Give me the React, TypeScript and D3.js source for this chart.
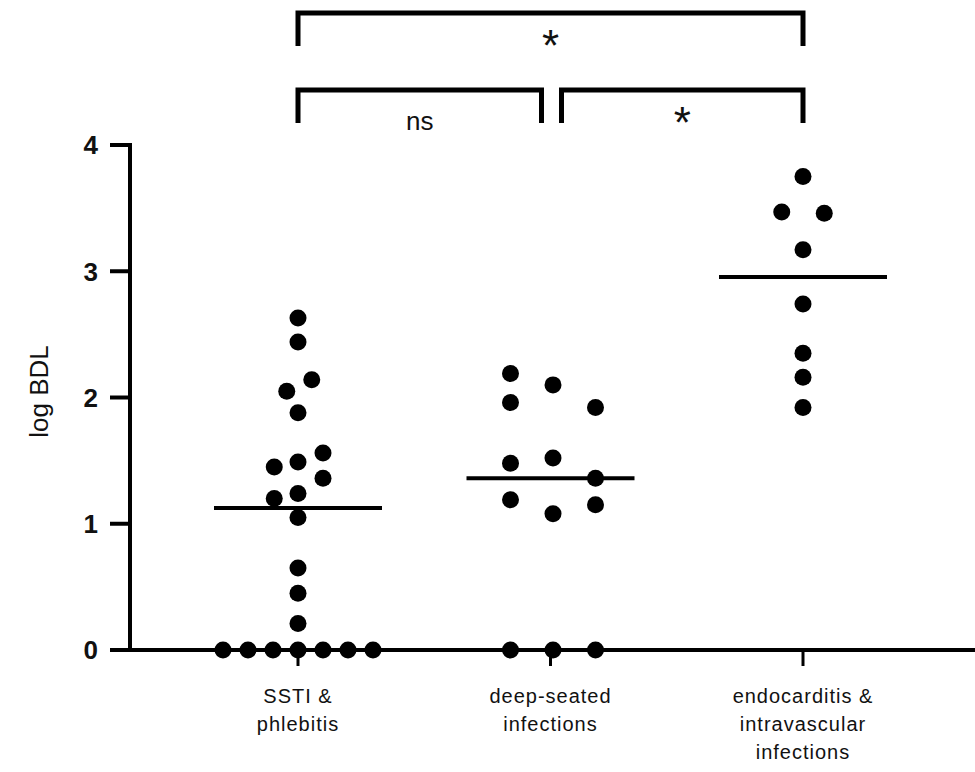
import React, { useEffect, useRef } from 'react';
import * as d3 from 'd3';

// groups on the x axis (label lines)
const categories = ['ssti', 'deep', 'endo'];
const categoryLabels = [
  ['SSTI &', 'phlebitis'],
  ['deep-seated', 'infections'],
  ['endocarditis &', 'intravascular', 'infections'],
];

// log BDL values per group, with the column each dot sits in (scatter offset)
const sstiValues = [2.63, 2.44, 2.14, 2.05, 1.88, 1.56, 1.49, 1.45, 1.36, 1.24, 1.2, 1.05, 0.65, 0.45, 0.21, 0, 0, 0, 0, 0, 0, 0];
const sstiCols = [0, 0, 0.55, -0.45, 0, 1, 0, -0.95, 1, 0, -0.95, 0, 0, 0, 0, -3, -2, -1, 0, 1, 2, 3];
const deepValues = [2.19, 1.96, 2.1, 1.92, 1.52, 1.48, 1.36, 1.19, 1.15, 1.08, 0, 0, 0];
const deepCols = [-1.6, -1.6, 0.1, 1.8, 0.1, -1.6, 1.8, -1.6, 1.8, 0.1, -1.6, 0.1, 1.8];
const endoValues = [3.75, 3.47, 3.46, 3.17, 2.74, 2.35, 2.16, 1.92];
const endoCols = [0, -0.85, 0.85, 0, 0, 0, 0, 0];

const yTicks = [0, 1, 2, 3, 4];

// significance brackets: [from group, to group, label, level]
const brackets: [string, string, string, number][] = [
  ['ssti', 'endo', '*', 1],
  ['ssti', 'deep', 'ns', 0],
  ['deep', 'endo', '*', 0],
];

export default function App() {
  const svgRef = useRef<SVGSVGElement>(null);
  const width = 975;
  const height = 772;

  useEffect(() => {
    const svg = d3.select(svgRef.current);
    svg.selectAll('*').remove();

    const axisX = 130;
    const x = d3.scalePoint<string>().domain(categories).range([298, 803]);
    const y = d3.scaleLinear().domain([0, 4]).range([650, 145]);
    const colW = 25;

    const groups = [
      { key: 'ssti', values: sstiValues, cols: sstiCols },
      { key: 'deep', values: deepValues, cols: deepCols },
      { key: 'endo', values: endoValues, cols: endoCols },
    ];

    // y axis
    svg.append('line')
      .attr('x1', axisX).attr('x2', axisX)
      .attr('y1', y(4) - 2).attr('y2', y(0))
      .attr('stroke', '#000').attr('stroke-width', 4);
    yTicks.forEach(t => {
      svg.append('line')
        .attr('x1', axisX - 20).attr('x2', axisX)
        .attr('y1', y(t)).attr('y2', y(t))
        .attr('stroke', '#000').attr('stroke-width', 4);
      svg.append('text')
        .attr('x', axisX - 32).attr('y', y(t))
        .attr('dy', '0.36em')
        .attr('text-anchor', 'end')
        .attr('font-family', 'Liberation Sans, Arial, sans-serif')
        .attr('font-weight', 'bold')
        .attr('font-size', 26)
        .attr('fill', '#111')
        .text(t);
    });

    svg.append('text')
      .attr('transform', `translate(48,${y(2) - 6}) rotate(-90)`)
      .attr('text-anchor', 'middle')
      .attr('font-family', 'Liberation Sans, Arial, sans-serif')
      .attr('font-size', 26)
      .attr('fill', '#111')
      .text('log BDL');

    // x axis
    svg.append('line')
      .attr('x1', axisX - 2).attr('x2', width)
      .attr('y1', y(0)).attr('y2', y(0))
      .attr('stroke', '#000').attr('stroke-width', 4);
    categories.forEach((c, i) => {
      svg.append('line')
        .attr('x1', x(c)!).attr('x2', x(c)!)
        .attr('y1', y(0)).attr('y2', y(0) + 16)
        .attr('stroke', '#000').attr('stroke-width', 3);
      const t = svg.append('text')
        .attr('text-anchor', 'middle')
        .attr('font-family', 'Liberation Sans, Arial, sans-serif')
        .attr('font-size', 20)
        .attr('letter-spacing', 1)
        .attr('fill', '#111');
      categoryLabels[i].forEach((line, j) => {
        t.append('tspan')
          .attr('x', x(c)!)
          .attr('y', 703 + j * 28)
          .text(line);
      });
    });

    // dots and median lines
    groups.forEach(g => {
      const cx = x(g.key)!;
      svg.append('g')
        .selectAll('circle')
        .data(g.values)
        .join('circle')
        .attr('cx', (d, i) => cx + g.cols[i] * colW)
        .attr('cy', d => y(d))
        .attr('r', 8.5)
        .attr('fill', '#000');
      const med = d3.median(g.values)!;
      svg.append('line')
        .attr('x1', cx - 84).attr('x2', cx + 84)
        .attr('y1', y(med)).attr('y2', y(med))
        .attr('stroke', '#000').attr('stroke-width', 4);
    });

    // significance brackets
    const levelY = [90, 13];
    brackets.forEach(([a, b, label, level]) => {
      let x1 = x(a)!;
      let x2 = x(b)!;
      if (level === 0) {
        if (b === 'deep') x2 -= 9;
        if (a === 'deep') x1 += 11;
      }
      const top = levelY[level];
      svg.append('path')
        .attr('d', `M${x1},${top + 33}V${top}H${x2}V${top + 33}`)
        .attr('fill', 'none')
        .attr('stroke', '#000')
        .attr('stroke-width', 5);
      svg.append('text')
        .attr('x', (x1 + x2) / 2)
        .attr('y', label === '*' ? top + 48 : top + 40)
        .attr('text-anchor', 'middle')
        .attr('font-family', 'Liberation Sans, Arial, sans-serif')
        .attr('font-size', label === '*' ? 44 : 26)
        .attr('fill', '#111')
        .text(label);
    });
  }, []);

  return (
    <svg
      ref={svgRef}
      width={width}
      height={height}
      style={{ position: 'absolute', left: 0, top: 0, background: '#fff' }}
    />
  );
}
